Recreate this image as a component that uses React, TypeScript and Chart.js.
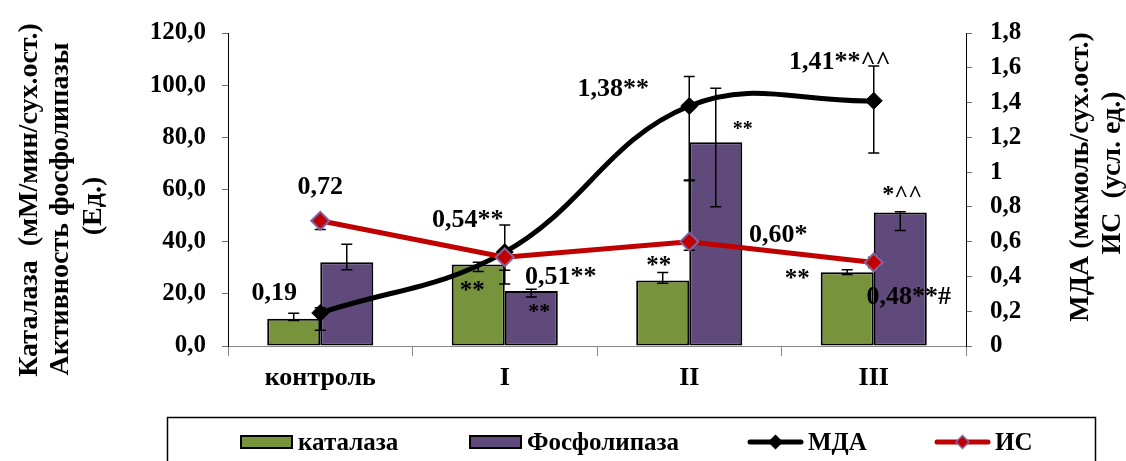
import React, { useEffect, useRef } from 'react';
import { Chart, registerables } from 'chart.js';

Chart.register(...registerables);

// ---------- data ----------
const categories = ['контроль', 'I', 'II', 'III'];

const catalase = [10.4, 31.2, 25.1, 28.3];
const catalasePlus = [2.2, 0.9, 3.1, 0.9];
const catalaseMinus = [0.6, 2.6, 1.0, 0.9];

const phospholipase = [32.1, 21.1, 78.1, 51.2];
const phospholipasePlus = [6.9, 0.7, 20.7, 0.3];
const phospholipaseMinus = [2.9, 2.3, 24.7, 6.9];

const mda = [0.19, 0.54, 1.38, 1.41];
const mdaPlus = [0.03, 0.156, 0.17, 0.2];
const mdaMinus = [0.1, 0.184, 0.43, 0.3];

const isIndex = [0.72, 0.51, 0.6, 0.48];
const isPlus = [0.02, 0, 0.354, 0.03];
const isMinus = [0.05, 0.075, 0.05, 0.03];

const mdaLabels = ['0,19', '0,54**', '1,38**', '1,41**^^'];
const isLabels = ['0,72', '0,51**', '0,60*', '0,48**#'];
const catalaseMarks = ['', '**', '**', '**'];
const phospholipaseMarks = ['', '**', '**', '*^^'];

const leftTickLabels = ['0,0', '20,0', '40,0', '60,0', '80,0', '100,0', '120,0'];
const rightTickLabels = ['0', '0,2', '0,4', '0,6', '0,8', '1', '1,2', '1,4', '1,6', '1,8'];

const leftTitle = ['Каталаза  (мМ/мин/сух.ост.)', 'Активность фосфолипазы', '(Ед.)'];
const rightTitle = ['МДА (мкмоль/сух.ост.)', 'ИС  (усл. ед.)'];

const legendNames = ['каталаза', 'Фосфолипаза', 'МДА', 'ИС'];

// ---------- layout / style (not data) ----------
const FONT = '"Liberation Serif", "Times New Roman", serif';
const GREEN = '#77933c';
const PURPLE = '#604a7b';
const RED = '#c00000';
const LILAC = '#8064a2';

// label offsets relative to their points: [dx, baseline dy]
const mdaLabelOffsets = [[-46, -13], [-37, -25], [-76, -10], [-34, -32]];
const isLabelOffsets = [[0, -27], [56, 27], [89, 0], [35, 41]];
// relative to bar top centre
const catalaseMarkOffsets = [[0, 0], [-6, 33], [-4, -8], [-50, 14]];
const phospholipaseMarkOffsets = [[0, 0], [8, 27], [27, -7], [2, -11]];
const phospholipaseMarkSizes = [22, 22, 20, 24];

const errors: Record<number, [number[], number[]]> = {
  0: [catalasePlus, catalaseMinus],
  1: [phospholipasePlus, phospholipaseMinus],
  2: [mdaPlus, mdaMinus],
  3: [isPlus, isMinus],
};

function drawErrors(chart: any, index: number) {
  const pair = errors[index];
  if (!pair) return;
  const ds = chart.data.datasets[index];
  const meta = chart.getDatasetMeta(index);
  const scale = chart.scales[meta.yAxisID];
  const ctx = chart.ctx;
  ctx.save();
  ctx.strokeStyle = '#000';
  ctx.lineWidth = 1.5;
  meta.data.forEach((el: any, j: number) => {
    const v = ds.data[j];
    const x = el.x;
    const yt = scale.getPixelForValue(v + pair[0][j]);
    const yb = scale.getPixelForValue(v - pair[1][j]);
    ctx.beginPath();
    ctx.moveTo(x, yt);
    ctx.lineTo(x, yb);
    ctx.moveTo(x - 5.5, yt);
    ctx.lineTo(x + 5.5, yt);
    ctx.moveTo(x - 5.5, yb);
    ctx.lineTo(x + 5.5, yb);
    ctx.stroke();
  });
  ctx.restore();
}

const errorBarPlugin = {
  id: 'errorBars',
  beforeDatasetDraw(chart: any, args: any) {
    if (args.meta.type === 'line') drawErrors(chart, args.index);
  },
  afterDatasetDraw(chart: any, args: any) {
    if (args.meta.type === 'bar') drawErrors(chart, args.index);
  },
};

function diamond(ctx: CanvasRenderingContext2D, x: number, y: number, r: number) {
  ctx.beginPath();
  ctx.moveTo(x - r, y);
  ctx.lineTo(x, y - r);
  ctx.lineTo(x + r, y);
  ctx.lineTo(x, y + r);
  ctx.closePath();
}

const annotationPlugin = {
  id: 'annotations',
  afterDraw(chart: any) {
    const ctx: CanvasRenderingContext2D = chart.ctx;
    ctx.save();
    ctx.fillStyle = '#000';
    ctx.textAlign = 'center';
    ctx.textBaseline = 'alphabetic';

    // value labels on lines
    ctx.font = `bold 26px ${FONT}`;
    const mdaMeta = chart.getDatasetMeta(2);
    mdaMeta.data.forEach((el: any, j: number) => {
      const [dx, dy] = mdaLabelOffsets[j];
      ctx.fillText(mdaLabels[j], el.x + dx, el.y + dy);
    });
    const isMeta = chart.getDatasetMeta(3);
    isMeta.data.forEach((el: any, j: number) => {
      const [dx, dy] = isLabelOffsets[j];
      ctx.fillText(isLabels[j], el.x + dx, el.y + dy);
    });

    // significance marks on bars
    const catMeta = chart.getDatasetMeta(0);
    ctx.font = `bold 25px ${FONT}`;
    catMeta.data.forEach((el: any, j: number) => {
      if (!catalaseMarks[j]) return;
      const [dx, dy] = catalaseMarkOffsets[j];
      ctx.fillText(catalaseMarks[j], el.x + dx, el.y + dy);
    });
    const phMeta = chart.getDatasetMeta(1);
    phMeta.data.forEach((el: any, j: number) => {
      if (!phospholipaseMarks[j]) return;
      const [dx, dy] = phospholipaseMarkOffsets[j];
      ctx.font = `bold ${phospholipaseMarkSizes[j]}px ${FONT}`;
      ctx.fillText(phospholipaseMarks[j], el.x + dx, el.y + dy);
    });

    // axis titles (rotated)
    ctx.font = `bold 28px ${FONT}`;
    const leftPos = [[37, 200], [68, 209], [101, 206]];
    leftTitle.forEach((t, i) => {
      ctx.save();
      ctx.translate(leftPos[i][0], leftPos[i][1]);
      ctx.rotate(-Math.PI / 2);
      ctx.fillText(t, 0, 0);
      ctx.restore();
    });
    const rightPos = [[1088, 177], [1120, 173]];
    rightTitle.forEach((t, i) => {
      ctx.save();
      ctx.translate(rightPos[i][0], rightPos[i][1]);
      ctx.rotate(-Math.PI / 2);
      ctx.fillText(t, 0, 0);
      ctx.restore();
    });

    // legend
    ctx.strokeStyle = '#000';
    ctx.lineWidth = 1.5;
    ctx.strokeRect(167.5, 417.5, 928, 80);

    ctx.textAlign = 'left';
    ctx.font = `bold 25px ${FONT}`;
    const baseY = 450;
    const midY = 442;
    const swatches = [
      { x: 241, color: GREEN, tx: 298 },
      { x: 470, color: PURPLE, tx: 527 },
    ];
    swatches.forEach((s, i) => {
      ctx.fillStyle = s.color;
      ctx.fillRect(s.x, 436, 51, 12);
      ctx.lineWidth = 2;
      ctx.strokeRect(s.x, 436, 51, 12);
      ctx.fillStyle = '#000';
      ctx.fillText(legendNames[i], s.tx, baseY);
    });
    const lines = [
      { x: 748, color: '#000', mk: '#000', mkb: '#000', tx: 808 },
      { x: 935, color: RED, mk: RED, mkb: LILAC, tx: 995 },
    ];
    lines.forEach((l, i) => {
      ctx.strokeStyle = l.color;
      ctx.lineWidth = 5;
      ctx.lineCap = 'round';
      ctx.beginPath();
      ctx.moveTo(l.x + 2, midY);
      ctx.lineTo(l.x + 53, midY);
      ctx.stroke();
      ctx.lineCap = 'butt';
      diamond(ctx, l.x + 27.5, midY, 6.5);
      ctx.fillStyle = l.mk;
      ctx.fill();
      ctx.lineWidth = 1.5;
      ctx.strokeStyle = l.mkb;
      ctx.stroke();
      ctx.fillStyle = '#000';
      ctx.fillText(legendNames[i + 2], l.tx, baseY);
    });

    ctx.restore();
  },
};

export default function App() {
  const ref = useRef<HTMLCanvasElement | null>(null);

  useEffect(() => {
    if (!ref.current) return;
    const chart = new Chart(ref.current, {
      type: 'bar',
      data: {
        labels: categories,
        datasets: [
          {
            type: 'bar',
            label: legendNames[0],
            data: catalase,
            backgroundColor: GREEN,
            borderColor: '#000',
            borderWidth: 2,
            borderSkipped: false,
            yAxisID: 'y',
            order: 2,
          },
          {
            type: 'bar',
            label: legendNames[1],
            data: phospholipase,
            backgroundColor: PURPLE,
            borderColor: '#000',
            borderWidth: 2,
            borderSkipped: false,
            yAxisID: 'y',
            order: 3,
          },
          {
            type: 'line',
            label: legendNames[2],
            data: mda,
            borderColor: '#000',
            borderWidth: 5,
            tension: 0.4,
            pointStyle: 'rectRot',
            pointRadius: 8.5,
            pointBackgroundColor: '#000',
            pointBorderColor: '#000',
            pointBorderWidth: 1,
            yAxisID: 'y1',
            order: 1,
          },
          {
            type: 'line',
            label: legendNames[3],
            data: isIndex,
            borderColor: RED,
            borderWidth: 5,
            tension: 0,
            pointStyle: 'rectRot',
            pointRadius: 9,
            pointBackgroundColor: RED,
            pointBorderColor: LILAC,
            pointBorderWidth: 2,
            yAxisID: 'y1',
            order: 0,
          },
        ] as any,
      },
      options: {
        responsive: false,
        animation: false,
        devicePixelRatio: 1,
        layout: { padding: { top: 27, left: 0, right: 0, bottom: 0 } },
        datasets: {
          bar: { categoryPercentage: 0.575, barPercentage: 1 },
        } as any,
        plugins: {
          legend: { display: false },
          tooltip: { enabled: false },
        },
        scales: {
          x: {
            grid: {
              drawOnChartArea: false,
              drawTicks: true,
              tickLength: 10,
              color: '#868686',
              offset: true,
            },
            border: { color: '#868686', width: 1 },
            ticks: {
              color: '#000',
              padding: 7,
              font: { family: FONT, size: 26, weight: 'bold' },
              maxRotation: 0,
            },
            afterFit: (s: any) => {
              s.height = 115;
            },
          },
          y: {
            position: 'left',
            min: 0,
            max: 120,
            grid: { drawOnChartArea: false, drawTicks: true, tickLength: 6, color: '#6e6e6e' },
            border: { color: '#000', width: 1 },
            ticks: {
              stepSize: 20,
              color: '#000',
              padding: 16,
              font: { family: FONT, size: 25, weight: 'bold' },
              callback: (_v: any, i: number) => leftTickLabels[i],
            },
            afterFit: (s: any) => {
              s.width = 228;
            },
          },
          y1: {
            position: 'right',
            min: 0,
            max: 1.8,
            grid: { drawOnChartArea: false, drawTicks: true, tickLength: 6, color: '#6e6e6e' },
            border: { color: '#000', width: 1 },
            ticks: {
              stepSize: 0.2,
              color: '#000',
              padding: 18,
              font: { family: FONT, size: 25, weight: 'bold' },
              callback: (_v: any, i: number) => rightTickLabels[i],
            },
            afterFit: (s: any) => {
              s.width = 160;
            },
          },
        },
      } as any,
      plugins: [errorBarPlugin, annotationPlugin],
    });
    return () => chart.destroy();
  }, []);

  return (
    <div style={{ position: 'absolute', left: 0, top: 0, width: 1126, height: 461, background: '#fff' }}>
      <canvas ref={ref} width={1126} height={461} style={{ display: 'block' }} />
    </div>
  );
}
